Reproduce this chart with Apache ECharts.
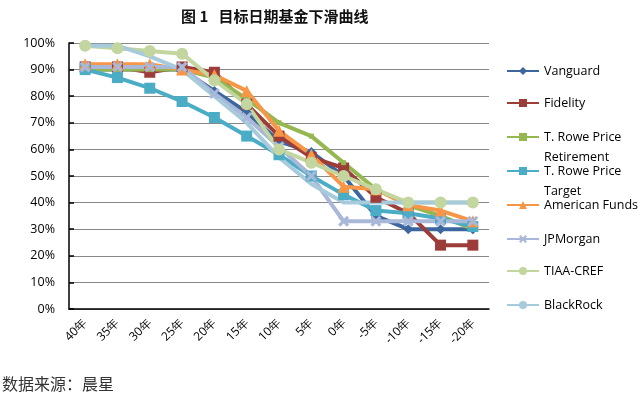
<!DOCTYPE html>
<html>
<head>
<meta charset="utf-8">
<script src="https://cdn.jsdelivr.net/npm/echarts@6/dist/echarts.min.js"></script>
<style>
  html, body { margin: 0; padding: 0; background: #fff; }
  #chart { width: 644px; height: 399px; }
</style>
</head>
<body>
<div id="chart"></div>
<script>
// years to target date
const categories = ['40年', '35年', '30年', '25年', '20年', '15年', '10年', '5年', '0年', '-5年', '-10年', '-15年', '-20年'];

// equity share, %
const vanguard = [90, 90, 90, 90, 82, 74, 63, 59, 50, 35, 30, 30, 30];
const fidelity = [91, 91, 89, 91, 89, 77, 65, 57, 53, 42, 36, 24, 24];
const troweRetirement = [90, 90, 90, 90, 87, 79, 70, 65, 55, 45, 39, 35, 30];
const troweTarget = [90, 87, 83, 78, 72, 65, 58, 50, 43, 37, 36, 34, 31];
const americanFunds = [92, 92, 92, 90, 88, 82, 67, 58, 46, 45, 39, 37, 33];
const jpMorgan = [91, 91, 91, 91, 81, 72, 61, 50, 33, 33, 33, 33, 33];
const tiaaCref = [99, 98, 97, 96, 86, 77, 60, 55, 50, 45, 40, 40, 40];
const blackRock = [99, 99, 95, 90, 80, 70, 57, 47, 40, 40, 40, 40, 40];

const crossPath = 'path://M0,2L2,0L5,3L8,0L10,2L7,5L10,8L8,10L5,7L2,10L0,8L3,5Z';

const seriesDefs = [
  { name: 'Vanguard', label: 'Vanguard', data: vanguard, color: '#3b679e', symbol: 'diamond', size: 10 },
  { name: 'Fidelity', label: 'Fidelity', data: fidelity, color: '#9c3d3a', symbol: 'rect', size: 11 },
  { name: 'T. Rowe Price Retirement', label: 'T. Rowe Price\nRetirement', data: troweRetirement, color: '#94b750', symbol: 'rect', size: 5 },
  { name: 'T. Rowe Price Target', label: 'T. Rowe Price\nTarget', data: troweTarget, color: '#4bacc6', symbol: 'rect', size: 11 },
  { name: 'American Funds', label: 'American Funds', data: americanFunds, color: '#f79646', symbol: 'triangle', size: 12 },
  { name: 'JPMorgan', label: 'JPMorgan', data: jpMorgan, color: '#a9b7d8', symbol: crossPath, size: 11 },
  { name: 'TIAA-CREF', label: 'TIAA-CREF', data: tiaaCref, color: '#c3d69f', symbol: 'circle', size: 12 },
  { name: 'BlackRock', label: 'BlackRock', data: blackRock, color: '#a7cbdc', symbol: 'none', size: 0 }
];

// legend row centres
const legendRows = [71, 103, 137, 171, 205, 239, 271, 305];

const chart = echarts.init(document.getElementById('chart'));

// one legend per row so the wrapped names keep their first line level with the icon
const legends = seriesDefs.map((s, i) => {
  const twoLines = s.label.indexOf('\n') >= 0;
  return {
    left: 506,
    top: legendRows[i] - (twoLines ? 30 : 10),
    padding: 0,
    itemWidth: 32,
    itemHeight: 10,
    itemGap: 0,
    selectedMode: false,
    data: [s.name],
    formatter: () => (twoLines ? ' \n' + s.label : s.label),
    textStyle: {
      fontFamily: 'Open Sans',
      fontSize: 12.5,
      color: '#000',
      lineHeight: 20
    }
  };
});

const option = {
  backgroundColor: '#fff',
  animation: false,
  title: {
    text: '图 1   目标日期基金下滑曲线',
    left: 176,
    top: 4,
    textStyle: {
      fontFamily: 'Noto Sans CJK SC',
      fontSize: 15,
      fontWeight: 'bold',
      color: '#111'
    }
  },
  legend: legends,
  grid: { left: 69, right: 155, top: 43, bottom: 90, containLabel: false },
  xAxis: {
    type: 'category',
    data: categories,
    boundaryGap: true,
    axisLine: { lineStyle: { color: '#000', width: 1.5 } },
    axisTick: { inside: true, length: 5, lineStyle: { color: '#000', width: 1.5 } },
    axisLabel: {
      rotate: 45,
      interval: 0,
      margin: 12,
      fontFamily: 'Open Sans',
      fontSize: 12,
      color: '#000'
    }
  },
  yAxis: {
    type: 'value',
    min: 0,
    max: 100,
    interval: 10,
    axisLine: { show: true, lineStyle: { color: '#000', width: 1.5 } },
    axisTick: { show: true, inside: true, length: 5, lineStyle: { color: '#000', width: 1.5 } },
    axisLabel: {
      formatter: '{value}%',
      margin: 14,
      fontFamily: 'Open Sans',
      fontSize: 12.5,
      color: '#000'
    },
    splitLine: { lineStyle: { color: '#888', width: 1 } }
  },
  series: seriesDefs.map(s => ({
    name: s.name,
    type: 'line',
    data: s.data,
    symbol: s.symbol,
    symbolSize: s.size,
    showSymbol: s.symbol !== 'none',
    color: s.color,
    lineStyle: { width: 4, color: s.color },
    itemStyle: { color: s.color, borderWidth: 0 }
  })),
  graphic: [
    {
      type: 'text',
      left: 2,
      top: 376,
      style: {
        text: '数据来源：晨星',
        fontFamily: 'Noto Sans CJK SC',
        fontSize: 16,
        fill: '#333'
      }
    }
  ]
};

chart.setOption(option);
</script>
</body>
</html>
